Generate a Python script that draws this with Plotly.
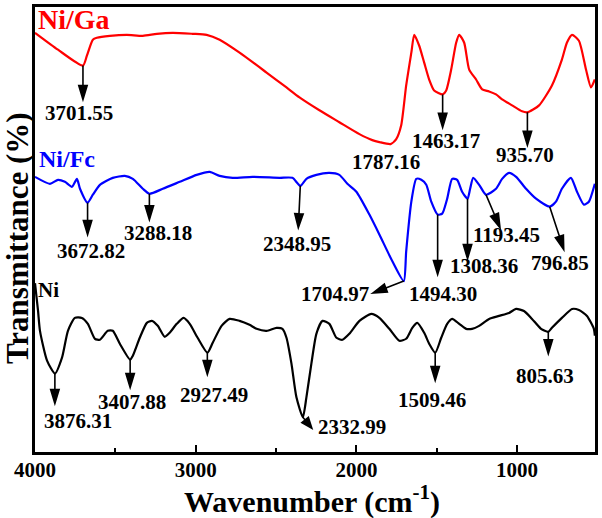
import numpy as np
import plotly.graph_objects as go

# ---------------- data (wavenumber cm^-1, transmittance a.u., curves offset) ----------------
ga_wn = [4000, 3857, 3702, 3677, 3640, 3615, 3534, 3429, 3329, 3242, 3143, 3019, 2932, 2851, 2727,
         2559, 2435, 2354, 2230, 2106, 1981, 1901, 1857, 1787, 1752, 1721, 1690, 1658, 1640, 1609,
         1578, 1547, 1516, 1463, 1441, 1410, 1379, 1360, 1329, 1298, 1255, 1217, 1174, 1131, 1093,
         1031, 969, 936, 863, 783, 721, 690, 658, 615, 571, 540, 516]
ga_t = [422, 405, 389, 399, 415, 417, 419, 420, 419, 421, 422, 421, 420, 415, 402,
        382, 367, 357, 344, 332, 320, 314, 312, 310, 315, 329, 369, 402, 420, 409,
        392, 375, 364, 360, 364, 385, 412, 420, 412, 385, 375, 365, 363, 360, 355,
        349, 343, 342, 349, 369, 395, 412, 420, 414, 385, 367, 375]

fc_wn = [4000, 3907, 3857, 3814, 3770, 3739, 3720, 3673, 3640, 3596, 3516, 3441, 3391, 3329, 3288,
         3205, 3099, 2994, 2913, 2851, 2770, 2646, 2478, 2398, 2349, 2311, 2249, 2168, 2106, 2056,
         2000, 1919, 1857, 1776, 1705, 1690, 1658, 1627, 1596, 1565, 1534, 1494, 1466, 1435, 1404,
         1373, 1342, 1308, 1292, 1273, 1236, 1193, 1131, 1093, 1050, 1006, 944, 882, 797, 758,
         721, 665, 627, 584, 553, 516]
fc_t = [277, 270, 274, 272, 267, 275, 265, 251, 259, 269, 276, 278, 275, 265, 260,
        265, 272, 279, 282, 278, 276, 277, 276, 276, 268, 275, 279, 281, 279, 270,
        262, 239, 219, 192, 172, 202, 252, 275, 274, 269, 252, 239, 240, 255, 275,
        274, 262, 255, 265, 276, 269, 259, 265, 275, 281, 277, 265, 255, 247, 252,
        265, 276, 262, 249, 252, 270]

ni_wn = [4000, 3981, 3969, 3925, 3876, 3832, 3795, 3752, 3708, 3671, 3627, 3596, 3547, 3516, 3472,
         3408, 3391, 3348, 3304, 3273, 3236, 3193, 3162, 3118, 3075, 3037, 2988, 2927, 2894, 2839,
         2789, 2727, 2665, 2621, 2559, 2497, 2460, 2435, 2404, 2373, 2333, 2311, 2280, 2249, 2211,
         2168, 2124, 2087, 2044, 1981, 1907, 1857, 1795, 1733, 1690, 1652, 1621, 1578, 1547, 1509,
         1472, 1435, 1404, 1360, 1317, 1280, 1236, 1174, 1112, 1050, 1006, 957, 907, 851, 806,
         783, 721, 658, 615, 565, 522, 516]
ni_t = [170, 142, 122, 92, 79, 95, 122, 135, 135, 129, 114, 113, 122, 122, 109,
        93, 97, 115, 130, 132, 127, 116, 120, 129, 135, 129, 115, 100, 110, 127,
        134, 132, 128, 124, 122, 125, 124, 115, 89, 55, 35, 55, 89, 119, 132,
        129, 115, 113, 119, 132, 139, 135, 124, 112, 114, 125, 130, 120, 109, 100,
        115, 129, 134, 129, 124, 124, 127, 134, 137, 140, 144, 142, 134, 124, 121,
        125, 135, 144, 143, 137, 124, 117]

series_names = ["Ni/Ga", "Ni/Fc", "Ni"]
series_colors = ["#FF0000", "#0000FF", "#000000"]

# peak labels: (series index, wavenumber, label, arrow offset px (dx, dy down), label offset px)
peaks = [
    (0, 3701.55, "3701.55", (0, 34), (-4, 48)),
    (0, 1787.16, "1787.16", None, (-5, 18)),
    (0, 1463.17, "1463.17", (0, 33), (3, 47)),
    (0, 935.70, "935.70", (0, 33), (-2, 43)),
    (1, 3672.82, "3672.82", (0, 32), (3, 48)),
    (1, 3288.18, "3288.18", (0, 26), (9, 39)),
    (1, 2348.95, "2348.95", (-2, 42), (-3, 58)),
    (1, 1704.97, "1704.97", (-31, 12), (-69, 13)),
    (1, 1494.30, "1494.30", (0, 60), (5, 79)),
    (1, 1308.36, "1308.36", (0, 60), (16, 67)),
    (1, 1193.45, "1193.45", (14, 33), (21, 40)),
    (1, 796.85, "796.85", (14, 43), (10, 56)),
    (2, 3876.31, "3876.31", (0, 30), (23, 48)),
    (2, 3407.88, "3407.88", (0, 28), (2, 42)),
    (2, 2927.49, "2927.49", (0, 22), (7, 42)),
    (2, 2332.99, "2332.99", (9, 11), (49, 10)),
    (2, 1509.46, "1509.46", (0, 28), (-3, 47)),
    (2, 805.63, "805.63", (0, 22), (-3, 44)),
]

x_ticks = [4000, 3000, 2000, 1000]
x_minor = [3500, 2500, 1500]

# ---------------- figure ----------------
FONT = "Liberation Serif"
wns = [ga_wn, fc_wn, ni_wn]
ts = [ga_t, fc_t, ni_t]

fig = go.Figure()
for w, t, n, c in zip(wns, ts, series_names, series_colors):
    fig.add_trace(go.Scatter(x=w, y=t, mode="lines", name=n,
                             line=dict(color=c, width=2.2, shape="spline", smoothing=0.6)))

annotations = []
shapes = []
for si, wn, lab, arr, loff in peaks:
    w = np.array(wns[si], dtype=float)[::-1]
    t = np.array(ts[si], dtype=float)[::-1]
    yv = float(np.interp(wn, w, t))
    if arr is not None:
        dx, dy = arr
        L = np.hypot(dx, dy)
        ux, uy = dx / L, dy / L
        hl, hw = min(14.0, L * 0.75), 4.2
        bx, by = dx - hl * ux, dy - hl * uy
        px, py = -uy, ux
        c1 = (bx + hw * px, by + hw * py)
        c2 = (bx - hw * px, by - hw * py)
        path = (f"M0,0 L{bx:.2f},{-by:.2f} "
                f"M{dx:.2f},{-dy:.2f} L{c1[0]:.2f},{-c1[1]:.2f} L{c2[0]:.2f},{-c2[1]:.2f} Z")
        shapes.append(dict(type="path", xref="x", yref="y", xsizemode="pixel", ysizemode="pixel",
                           xanchor=wn, yanchor=yv, path=path,
                           line=dict(color="black", width=1.6), fillcolor="black", layer="above"))
    annotations.append(dict(x=wn, y=yv, xref="x", yref="y", text=lab, showarrow=False,
                            xshift=loff[0], yshift=-loff[1], xanchor="center", yanchor="middle",
                            font=dict(family=FONT, size=21, color="black", weight="bold")))

# series labels
lab_pos = [(0.002, 0.971, 28), (0.004, 0.658, 24), (0.002, 0.364, 21)]
for n, c, (px_, py_, fs) in zip(series_names, series_colors, lab_pos):
    annotations.append(dict(x=px_, y=py_, xref="paper", yref="paper", text=n, showarrow=False,
                            xanchor="left", yanchor="middle",
                            font=dict(family=FONT, size=fs, color=c, weight="bold")))

# axis titles
annotations.append(dict(x=-0.031, y=0.48, xref="paper", yref="paper", text="Transmittance (%)",
                        textangle=-90, showarrow=False, xanchor="center", yanchor="middle",
                        font=dict(family=FONT, size=31, color="black", weight="bold")))
annotations.append(dict(x=0.494, y=-0.107, xref="paper", yref="paper",
                        text="Wavenumber (cm<sup>-1</sup>)", showarrow=False,
                        xanchor="center", yanchor="middle",
                        font=dict(family=FONT, size=30, color="black", weight="bold")))

fig.update_layout(
    width=602, height=518,
    margin=dict(l=35, r=6, t=4, b=66),
    paper_bgcolor="white", plot_bgcolor="white",
    showlegend=False,
    annotations=annotations, shapes=shapes,
    xaxis=dict(range=[4000, 515], tickvals=x_ticks, ticktext=[str(v) for v in x_ticks],
               ticks="inside", ticklen=7, tickwidth=2, tickcolor="black",
               minor=dict(tickvals=x_minor, ticks="inside", ticklen=4, tickwidth=2, tickcolor="black"),
               showline=True, linewidth=2.5, linecolor="black", mirror=True,
               showgrid=False, zeroline=False, ticklabelstandoff=-3,
               tickfont=dict(family=FONT, size=21, color="black", weight="bold")),
    yaxis=dict(range=[0, 448], showticklabels=False, ticks="",
               showline=True, linewidth=2.5, linecolor="black", mirror=True,
               showgrid=False, zeroline=False),
)

fig.write_html("out.html")
